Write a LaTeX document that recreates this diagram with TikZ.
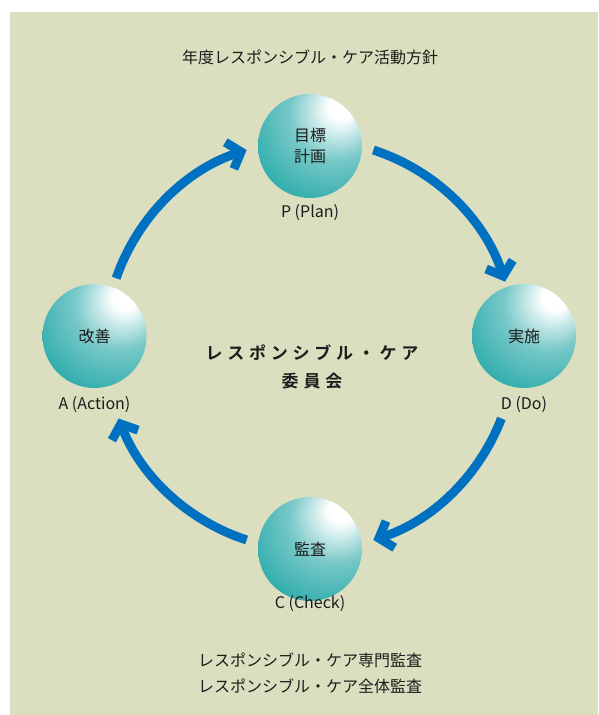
\documentclass[tikz,border=0pt]{standalone}
\usepackage{fontspec}
\setmainfont{Noto Sans CJK JP}
\newfontfamily\boldjp[LetterSpace=28]{Noto Sans CJK JP Bold}
\usetikzlibrary{arrows.meta}
\definecolor{bg}{RGB}{219,223,191}
\definecolor{arrowblue}{RGB}{0,112,192}
\definecolor{sphteal}{RGB}{22,164,162}
\definecolor{sphmid}{RGB}{120,200,200}
\definecolor{ink}{RGB}{30,28,28}
\pgfdeclareradialshading{sph}{\pgfpoint{16bp}{20bp}}{color(0bp)=(white); color(6bp)=(white); color(22bp)=(sphmid); color(46bp)=(sphteal); color(90bp)=(sphteal)}
\begin{document}
\begin{tikzpicture}[x=1pt,y=1pt,
  sphere/.style={circle, minimum size=104pt, inner sep=0pt, shading=sph, text=ink,
    font=\fontsize{16}{21}\selectfont, align=center},
  lbl/.style={text=ink, font=\fontsize{16}{18}\selectfont},
  cyc/.style={line width=9pt, draw=arrowblue, -{Straight Barb[length=12pt,width=28pt]}}]
\useasboundingbox (0,0) rectangle (598,715);
\fill[bg] (10,0) rectangle (598,703);
\coordinate (O) at (310,370);
\node[lbl] (title) at (310,658) {年度レスポンシブル・ケア活動方針};
\node[sphere] (P) at (310,569) {目標\\計画};
\node[lbl] (Pl) at (310,502) {P (Plan)};
\node[sphere] (D) at (524,379) {実施};
\node[lbl] (Dl) at (524,310) {D (Do)};
\node[sphere] (A) at (94.5,379) {改善};
\node[lbl] (Al) at (94.5,310) {A (Action)};
\node[sphere] (C) at (310,166) {監査};
\node[lbl] (Cl) at (310,111) {C (Check)};
\node[text=ink, font=\boldjp\fontsize{17}{28}\selectfont, align=center] (mid) at (312,348) {レスポンシブル・ケア\\委員会};
\node[lbl] (b1) at (310,55) {レスポンシブル・ケア専門監査};
\node[lbl] (b2) at (310,29) {レスポンシブル・ケア全体監査};
\draw[cyc] ([shift={(161:205)}]O) arc[start angle=161, end angle=108, radius=205];
\draw[cyc] ([shift={(72:205)}]O) arc[start angle=72, end angle=18, radius=205];
\draw[cyc] ([shift={(-21:205)}]O) arc[start angle=-21, end angle=-72, radius=205];
\draw[cyc] ([shift={(-108:205)}]O) arc[start angle=-108, end angle=-159, radius=205];
\end{tikzpicture}
\end{document}
